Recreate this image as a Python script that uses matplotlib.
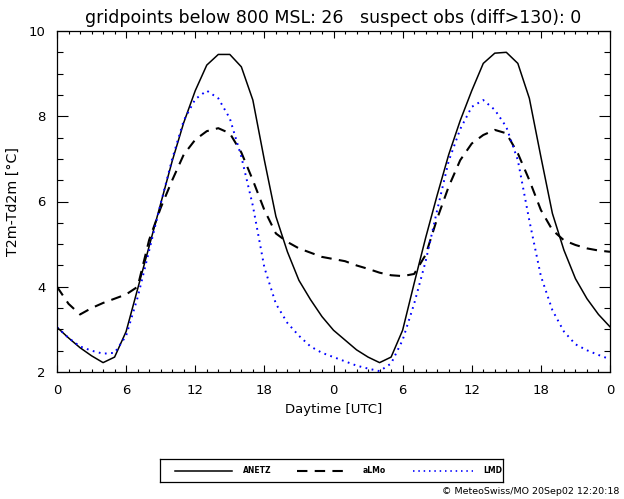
import numpy as np
import matplotlib
matplotlib.use("Agg")
import matplotlib.pyplot as plt
from matplotlib.ticker import MultipleLocator, FixedLocator

# hourly values over two days (0..48 h)
hours = np.arange(0, 49)
tick_labels = ["0", "6", "12", "18", "0", "6", "12", "18", "0"]

anetz = [3.05, 2.80, 2.57, 2.38, 2.22, 2.35, 2.95, 3.95, 4.95, 5.95,
         6.95, 7.85, 8.60, 9.20, 9.45, 9.45, 9.16, 8.38, 6.97, 5.65,
         4.82, 4.15, 3.70, 3.30, 2.98, 2.75, 2.52, 2.35, 2.22, 2.35,
         2.98, 4.08, 5.15, 6.15, 7.10, 7.90, 8.60, 9.24, 9.48, 9.50,
         9.24, 8.42, 7.05, 5.72, 4.86, 4.19, 3.72, 3.35, 3.06]

almo = [4.00, 3.60, 3.35, 3.50, 3.62, 3.72, 3.82, 4.00, 5.10, 5.85,
        6.50, 7.10, 7.45, 7.65, 7.72, 7.60, 7.15, 6.50, 5.80, 5.25,
        5.05, 4.90, 4.80, 4.70, 4.65, 4.60, 4.50, 4.42, 4.33, 4.27,
        4.25, 4.30, 4.75, 5.60, 6.35, 6.97, 7.36, 7.56, 7.68, 7.60,
        7.13, 6.50, 5.80, 5.33, 5.09, 4.98, 4.90, 4.85, 4.82]

lmd = [3.05, 2.80, 2.60, 2.50, 2.43, 2.45, 2.85, 3.75, 4.85, 5.95,
       7.00, 7.90, 8.40, 8.60, 8.42, 7.95, 7.05, 5.90, 4.45, 3.60,
       3.15, 2.85, 2.60, 2.45, 2.35, 2.25, 2.15, 2.08, 2.02, 2.20,
       2.75, 3.60, 4.60, 5.80, 6.95, 7.70, 8.22, 8.38, 8.15, 7.75,
       6.97, 5.55, 4.25, 3.45, 2.95, 2.65, 2.51, 2.40, 2.30]

W, H = 624, 499
fig = plt.figure(figsize=(W / 100, H / 100), dpi=100)
ax = fig.add_axes([57 / W, 1 - 372 / H, 553 / W, 341 / H])

ax.plot(hours, anetz, color="black", lw=1.1, ls="-")
ax.plot(hours, almo, color="black", lw=1.5, ls=(0, (5, 3.5)))
ax.plot(hours, lmd, color="blue", lw=1.4, ls=(0, (0.9, 2.3)))

ax.set_xlim(0, 48)
ax.set_ylim(2, 10)
ax.xaxis.set_major_locator(FixedLocator(np.arange(0, 49, 6)))
ax.set_xticklabels(tick_labels)
ax.xaxis.set_minor_locator(MultipleLocator(1))
ax.yaxis.set_major_locator(MultipleLocator(2))
ax.yaxis.set_minor_locator(MultipleLocator(0.5))
ax.tick_params(axis="both", which="both", direction="in", top=True, right=True,
               width=0.8, labelsize=9.5)
ax.tick_params(axis="x", which="major", length=5, pad=9)
ax.tick_params(axis="x", which="minor", length=2.5)
ax.tick_params(axis="y", which="major", length=8, pad=8)
ax.tick_params(axis="y", which="minor", length=4.5)
for s in ax.spines.values():
    s.set_linewidth(0.9)

ax.set_xlabel("Daytime [UTC]", fontsize=9.5, labelpad=4)
ax.set_ylabel("T2m-Td2m [°C]", fontsize=10.3)
ax.yaxis.set_label_coords(-37 / 553, 0.5)
ax.set_title("gridpoints below 800 MSL: 26   suspect obs (diff>130): 0",
             fontsize=12.5, pad=6)

# legend box drawn in pixel units
lg = fig.add_axes([160 / W, 1 - 482 / H, 343 / W, 23 / H])
lg.set_xlim(160, 503)
lg.set_ylim(482, 459)
lg.set_xticks([])
lg.set_yticks([])
for s in lg.spines.values():
    s.set_linewidth(0.9)
ly = 470.5
lg.plot([175, 232], [ly, ly], color="black", lw=1.1)
lg.text(243, ly, "ANETZ", fontsize=5.5, fontweight="bold", va="center")
lg.plot([297, 350], [ly, ly], color="black", lw=1.5, ls=(0, (5, 3.5)))
lg.text(363, ly, "aLMo", fontsize=5.5, fontweight="bold", va="center")
lg.plot([413, 473], [ly, ly], color="blue", lw=1.2, ls=(0, (0.9, 2.3)))
lg.text(483, ly, "LMD", fontsize=5.5, fontweight="bold", va="center")

fig.text(619 / W, 1 - 492 / H, "© MeteoSwiss/MO 20Sep02 12:20:18",
         fontsize=6.8, ha="right", va="center")

fig.savefig("out.png", dpi=100)
